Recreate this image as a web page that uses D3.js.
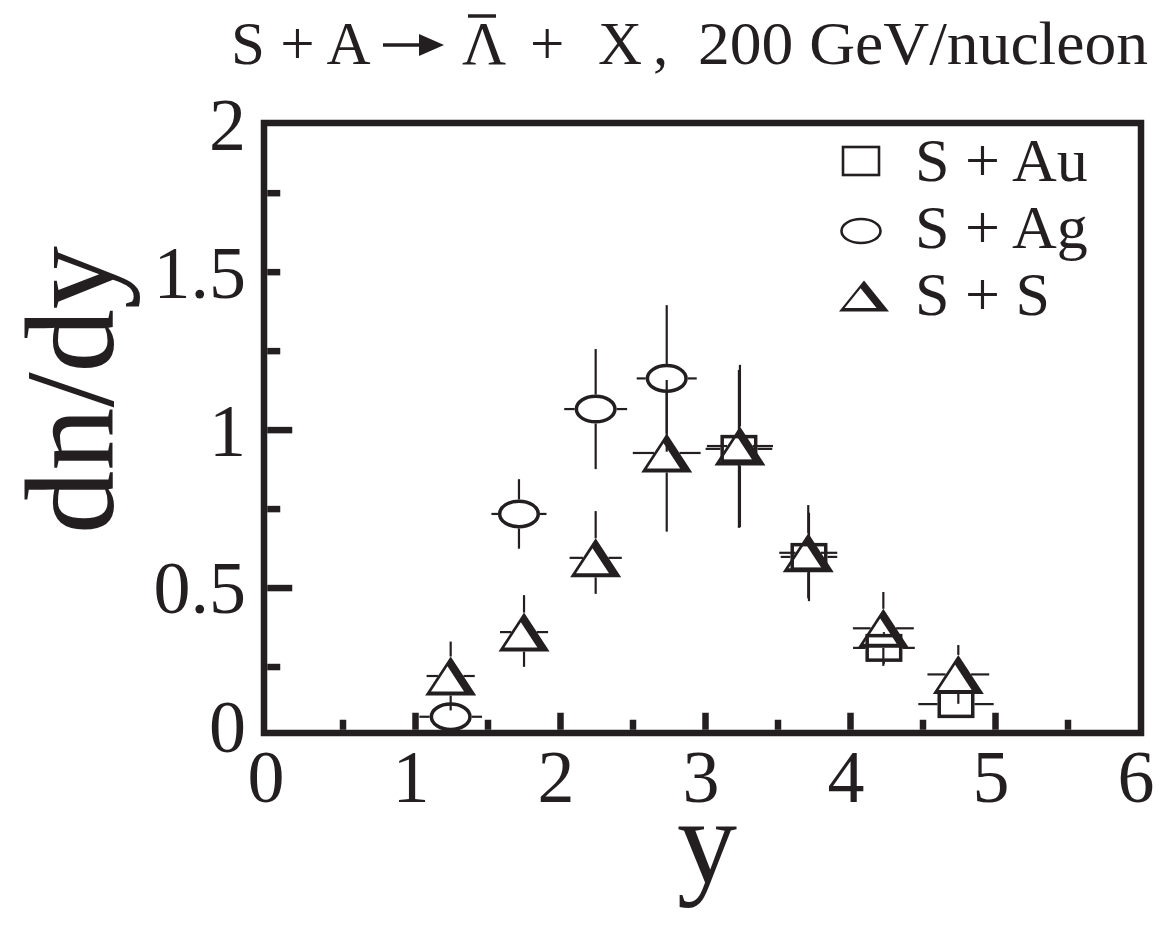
<!DOCTYPE html>
<html><head><meta charset="utf-8">
<script src="https://cdn.jsdelivr.net/npm/d3@7"></script>
<style>
body{margin:0;background:#fff}
svg text{font-family:"Liberation Serif","Times New Roman",serif;fill:#231f20}
</style>
</head><body>
<svg id="chart" width="1171" height="937"></svg>
<script>
// ---------- data ----------
const seriesNames = ["S + Au", "S + Ag", "S + S"];
const xTickValues = [0, 1, 2, 3, 4, 5, 6];
const xTickLabels = ["0", "1", "2", "3", "4", "5", "6"];
const xMinorTicks = [0.5, 1.5, 2.5, 3.5, 4.5, 5.5];
const yTickValues = [0, 0.5, 1, 1.5, 2];
const yTickLabels = ["0", "0.5", "1", "1.5", "2"];
const yLongTicks = [0.5, 1];
const yShortTicks = [0.25, 0.75, 1.25, 1.5, 1.75];

// S + Au (squares)
const auX = [3.234, 3.717, 4.234, 4.731];
const auY = [0.939, 0.597, 0.309, 0.131];
const auErrY = [0.25, 0.14, 0.05, 0.02];
const auErrX = [0.23, 0.195, 0.213, 0.26];
// S + Ag (ellipses)
const agX = [1.246, 1.717, 2.246, 2.736];
const agY = [0.091, 0.733, 1.065, 1.162];
const agErrY = [0.03, 0.11, 0.19, 0.232];
const agErrX = [0.216, 0.19, 0.217, 0.207];
// S + S (triangles)
const ssX = [1.246, 1.752, 2.246, 2.736, 3.241, 3.712, 4.23, 4.747];
const ssY = [0.22, 0.359, 0.594, 0.926, 0.948, 0.61, 0.371, 0.225];
const ssErrHi = [0.109, 0.117, 0.148, 0.231, 0.257, 0.151, 0.115, 0.093];
const ssErrLo = [0.109, 0.11, 0.114, 0.249, 0.257, 0.144, 0.119, 0.093];
const ssErrX = [0.166, 0.166, 0.18, 0.234, 0.228, 0.2, 0.21, 0.213];

// ---------- layout ----------
const ink = "#231f20";
const svg = d3.select("#chart");
const x = d3.scaleLinear().domain([0, 6]).range([270, 1140]);
const y = d3.scaleLinear().domain([0, 2]).range([745.5, 113.7]);
const frame = {l: 264, r: 1141, t: 123, b: 733, w: 6.5};

// frame
svg.append("rect").attr("x", frame.l).attr("y", frame.t)
  .attr("width", frame.r - frame.l).attr("height", frame.b - frame.t)
  .attr("fill", "none").attr("stroke", ink).attr("stroke-width", frame.w);

const inB = frame.b - frame.w / 2, inL = frame.l + frame.w / 2;
function styleAxis(g, sw) {
  g.select(".domain").remove();
  g.selectAll(".tick line").attr("stroke", ink).attr("stroke-width", sw);
  g.selectAll(".tick text").remove();
}
svg.append("g").attr("transform", `translate(0,${inB})`)
  .call(d3.axisBottom(x).tickValues(xTickValues.slice(1, -1)).tickSize(-17).tickFormat(""))
  .call(g => styleAxis(g, 6.5));
svg.append("g").attr("transform", `translate(0,${inB})`)
  .call(d3.axisBottom(x).tickValues(xMinorTicks).tickSize(-10).tickFormat(""))
  .call(g => styleAxis(g, 6.5));
svg.append("g").attr("transform", `translate(${inL},0)`)
  .call(d3.axisLeft(y).tickValues(yLongTicks).tickSize(-25).tickFormat(""))
  .call(g => styleAxis(g, 6.5));
svg.append("g").attr("transform", `translate(${inL},0)`)
  .call(d3.axisLeft(y).tickValues(yShortTicks).tickSize(-13).tickFormat(""))
  .call(g => styleAxis(g, 6.5));

// tick labels
svg.append("g").selectAll("text").data(xTickValues).join("text")
  .attr("x", d => x(d) - 4).attr("y", 802)
  .attr("text-anchor", "middle").attr("font-size", 74)
  .text((d, i) => xTickLabels[i]);
svg.append("g").selectAll("text").data(yTickValues).join("text")
  .attr("x", 246)
  .attr("y", d => Math.min(Math.max(y(d), 124), 726))
  .attr("dy", "0.35em")
  .attr("text-anchor", "end").attr("font-size", 74)
  .text((d, i) => yTickLabels[i]);

// axis titles
svg.append("text").attr("transform", "translate(113,390) rotate(-90)")
  .attr("text-anchor", "middle").attr("font-size", 126)
  .attr("textLength", 288).attr("lengthAdjust", "spacingAndGlyphs").text("dn/dy");
svg.append("text").attr("x", 707).attr("y", 882)
  .attr("text-anchor", "middle").attr("font-size", 120).text("y");

// title
const tg = svg.append("g");
const tBase = 64;
tg.append("text").attr("x", 231).attr("y", tBase).attr("font-size", 61).text("S + A");
tg.append("line").attr("x1", 383).attr("x2", 424).attr("y1", 45).attr("y2", 45)
  .attr("stroke", ink).attr("stroke-width", 3.5);
tg.append("path").attr("d", "M419,34 L444,45 L419,56 Z").attr("fill", ink);
tg.append("text").attr("x", 462).attr("y", tBase).attr("font-size", 61).text("\u039B");
tg.append("line").attr("x1", 468).attr("x2", 496).attr("y1", 16).attr("y2", 16)
  .attr("stroke", ink).attr("stroke-width", 3.5);
tg.append("text").attr("x", 530).attr("y", tBase).attr("font-size", 61).text("+");
tg.append("text").attr("x", 598).attr("y", tBase).attr("font-size", 61).text("X");
tg.append("text").attr("x", 653).attr("y", tBase).attr("font-size", 61).text(",");
tg.append("text").attr("x", 698).attr("y", tBase).attr("font-size", 61)
  .attr("textLength", 450).attr("lengthAdjust", "spacingAndGlyphs").text("200 GeV/nucleon");

// ---------- markers ----------
function triPath(cx, cy, w, h, dl, dr, db) {
  const A = [cx, cy - h / 2], B = [cx + w / 2, cy + h / 2], C = [cx - w / 2, cy + h / 2];
  const G = [cx, cy + h / 6];
  function off(P, Q, d) {
    const dx = Q[0] - P[0], dy = Q[1] - P[1], L = Math.hypot(dx, dy);
    let nx = -dy / L, ny = dx / L;
    const mx = (P[0] + Q[0]) / 2, my = (P[1] + Q[1]) / 2;
    if ((G[0] - mx) * nx + (G[1] - my) * ny < 0) { nx = -nx; ny = -ny; }
    return [[P[0] + nx * d, P[1] + ny * d], [dx, dy]];
  }
  function inter(l1, l2) {
    const [p, r] = l1, [q, s] = l2;
    const cr = r[0] * s[1] - r[1] * s[0];
    const t = ((q[0] - p[0]) * s[1] - (q[1] - p[1]) * s[0]) / cr;
    return [p[0] + t * r[0], p[1] + t * r[1]];
  }
  const lR = off(A, B, dr), lB = off(B, C, db), lL = off(C, A, dl);
  const iA = inter(lL, lR), iB = inter(lR, lB), iC = inter(lB, lL);
  const f = p => p[0].toFixed(2) + "," + p[1].toFixed(2);
  return `M${f(A)}L${f(B)}L${f(C)}Z M${f(iA)}L${f(iC)}L${f(iB)}Z`;
}

const TRI = {w: 51, h: 39}, SQ = {w: 37, h: 28}, EL = {rx: 21, ry: 14.5};
const errG = svg.append("g").attr("stroke", ink).attr("stroke-width", 2.2);
const markG = svg.append("g");

function errBars(cx, cy, up, down, left, right, gapUp, gapDown, gapX) {
  if (up > gapUp) errG.append("line").attr("x1", cx).attr("x2", cx).attr("y1", cy - gapUp).attr("y2", cy - up);
  if (down > gapDown) errG.append("line").attr("x1", cx).attr("x2", cx).attr("y1", cy + gapDown).attr("y2", cy + down);
  if (left > gapX) errG.append("line").attr("y1", cy).attr("y2", cy).attr("x1", cx - gapX).attr("x2", cx - left);
  if (right > gapX) errG.append("line").attr("y1", cy).attr("y2", cy).attr("x1", cx + gapX).attr("x2", cx + right);
}

// S + Ag
agX.forEach((v, i) => {
  const cx = x(v), cy = y(agY[i]);
  const up = cy - y(agY[i] + agErrY[i]), dn = y(agY[i] - agErrY[i]) - cy;
  const ex = x(v + agErrX[i]) - cx;
  errBars(cx, cy, up, dn, ex, ex, EL.ry, EL.ry, EL.rx);
  markG.append("ellipse").attr("cx", cx).attr("cy", cy).attr("rx", EL.rx - 1.7).attr("ry", EL.ry - 1.7)
    .attr("fill", "none").attr("stroke", ink).attr("stroke-width", 3.5);
});
// S + Au
auX.forEach((v, i) => {
  const cx = x(v), cy = y(auY[i]);
  const up = cy - y(auY[i] + auErrY[i]), dn = y(auY[i] - auErrY[i]) - cy;
  const ex = x(v + auErrX[i]) - cx;
  errBars(cx, cy, up, dn, ex, ex, SQ.h / 2, SQ.h / 2, SQ.w / 2);
  markG.append("rect").attr("x", cx - SQ.w / 2 + 1.75).attr("y", cy - SQ.h / 2 + 1.75)
    .attr("width", SQ.w - 3.5).attr("height", SQ.h - 3.5)
    .attr("fill", "none").attr("stroke", ink).attr("stroke-width", 3.5);
});
// S + S
ssX.forEach((v, i) => {
  const cx = x(v), cy = y(ssY[i]);
  const up = cy - y(ssY[i] + ssErrHi[i]), dn = y(ssY[i] - ssErrLo[i]) - cy;
  const ex = x(v + ssErrX[i]) - cx;
  errBars(cx, cy, up, dn, ex, ex, TRI.h / 2, TRI.h / 2, TRI.w / 4);
  markG.append("path").attr("d", triPath(cx, cy, TRI.w, TRI.h, 2.7, 8, 4))
    .attr("fill", ink).attr("fill-rule", "evenodd");
});

// ---------- legend ----------
const leg = svg.append("g");
const legRows = [181, 248, 315];
const legMarkX = 861, legTextX = 915;
leg.append("rect").attr("x", legMarkX - 18).attr("y", legRows[0] - 34).attr("width", 36).attr("height", 28)
  .attr("fill", "none").attr("stroke", ink).attr("stroke-width", 2.6);
leg.append("ellipse").attr("cx", legMarkX).attr("cy", legRows[1] - 17).attr("rx", 19.5).attr("ry", 12)
  .attr("fill", "none").attr("stroke", ink).attr("stroke-width", 2.6);
leg.append("path").attr("d", triPath(legMarkX + 3, legRows[2] - 19, 50, 31, 2.2, 7.5, 3.5))
  .attr("fill", ink).attr("fill-rule", "evenodd");
seriesNames.forEach((s, i) => {
  leg.append("text").attr("x", legTextX).attr("y", legRows[i]).attr("font-size", 62).text(s);
});
</script>
</body></html>
